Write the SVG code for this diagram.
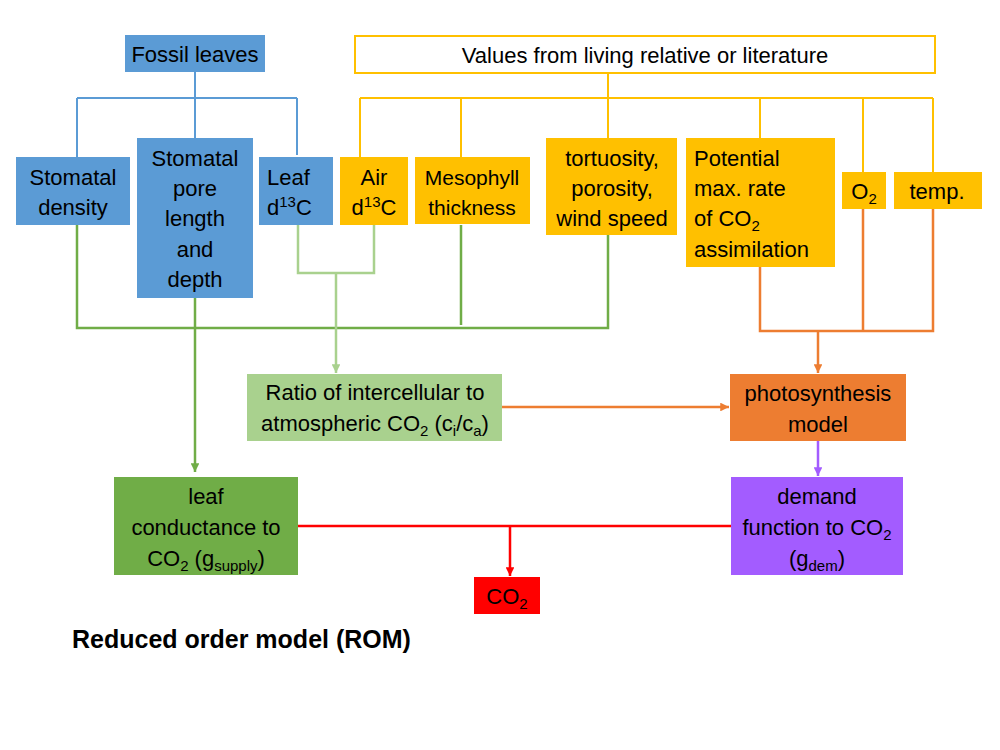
<svg xmlns="http://www.w3.org/2000/svg" width="1000" height="750" viewBox="0 0 1000 750">
<defs>
<style>
text{font-family:"Liberation Sans","Open Sans",sans-serif;font-size:22px;fill:#000}
.c{text-anchor:middle}
.blue{fill:#5b9bd5}
.yel{fill:#ffc000}
.lb{stroke:#5b9bd5;stroke-width:2;fill:none}
.ly{stroke:#ffc000;stroke-width:2;fill:none}
.lg{stroke:#70ad47;stroke-width:2.5;fill:none}
.llg{stroke:#a9d18e;stroke-width:2.5;fill:none}
.lo{stroke:#ed7d31;stroke-width:2.5;fill:none}
.lp{stroke:#a35cff;stroke-width:2.5;fill:none}
.lr{stroke:#ff0000;stroke-width:2.5;fill:none}
.sub{font-size:15px}
</style>
<marker id="ag" viewBox="0 0 10 10" refX="10" refY="5" markerWidth="3.5" markerHeight="3.5" orient="auto"><path d="M0,0L10,5L0,10z" fill="#70ad47"/></marker>
<marker id="alg" viewBox="0 0 10 10" refX="10" refY="5" markerWidth="3.5" markerHeight="3.5" orient="auto"><path d="M0,0L10,5L0,10z" fill="#a9d18e"/></marker>
<marker id="ao" viewBox="0 0 10 10" refX="10" refY="5" markerWidth="3.5" markerHeight="3.5" orient="auto"><path d="M0,0L10,5L0,10z" fill="#ed7d31"/></marker>
<marker id="ap" viewBox="0 0 10 10" refX="10" refY="5" markerWidth="3.5" markerHeight="3.5" orient="auto"><path d="M0,0L10,5L0,10z" fill="#a35cff"/></marker>
<marker id="ar" viewBox="0 0 10 10" refX="10" refY="5" markerWidth="3.5" markerHeight="3.5" orient="auto"><path d="M0,0L10,5L0,10z" fill="#ff0000"/></marker>
</defs>
<rect width="1000" height="750" fill="#fff"/>
<g id="connectors">
<path class="lb" d="M195,72V98M77,98H297M77,98V157M195,98V138M297,98V155"/>
<path class="ly" d="M608,73V98M360,98H933M360,98V157M461,98V157M608,98V138M760,98V138M863,98V172M933,98V172"/>
<path class="lg" d="M77,225V328H608V235M461,225V325"/>
<path class="lg" d="M195,298V472" marker-end="url(#ag)"/>
<path class="llg" d="M298,225V273H374V225"/>
<path class="llg" d="M336,273V373" marker-end="url(#alg)"/>
<path class="lo" d="M760,267V331H933V209M863,209V331"/>
<path class="lo" d="M818,331V373" marker-end="url(#ao)"/>
<path class="lo" d="M502,407H729" marker-end="url(#ao)"/>
<path class="lp" d="M818,441V476" marker-end="url(#ap)"/>
<path class="lr" d="M298,526H731M510,526V576" marker-end="url(#ar)"/>
</g>
<g id="fossil"><rect class="blue" x="125" y="35" width="140" height="37"/><text class="c" x="195" y="62">Fossil leaves</text></g>
<g id="values"><rect x="355" y="36" width="580" height="37" fill="#fff" stroke="#ffc000" stroke-width="2"/><text class="c" x="645" y="63">Values from living relative or literature</text></g>
<g id="stomdens"><rect class="blue" x="16" y="157" width="114" height="68"/><text class="c" x="73" y="185">Stomatal</text><text class="c" x="73" y="215">density</text></g>
<g id="pore"><rect class="blue" x="137" y="138" width="116" height="160"/><text class="c" x="195" y="166">Stomatal</text><text class="c" x="195" y="196">pore</text><text class="c" x="195" y="226">length</text><text class="c" x="195" y="257">and</text><text class="c" x="195" y="287">depth</text></g>
<g id="leafd13c"><rect class="blue" x="259" y="157" width="74" height="68"/><text x="267" y="185">Leaf</text><text x="267" y="215">d<tspan class="sub" dy="-8">13</tspan><tspan dy="8">C</tspan></text></g>
<g id="aird13c"><rect class="yel" x="340" y="157" width="68" height="68"/><text class="c" x="374" y="185">Air</text><text class="c" x="374" y="215">d<tspan class="sub" dy="-8">13</tspan><tspan dy="8">C</tspan></text></g>
<g id="mesophyll"><rect class="yel" x="415" y="157" width="115" height="67"/><text class="c" x="472" y="185" style="font-size:21px">Mesophyll</text><text class="c" x="472" y="215" style="font-size:21px">thickness</text></g>
<g id="tortuosity"><rect class="yel" x="546" y="138" width="131" height="97"/><text class="c" x="612" y="166">tortuosity,</text><text class="c" x="612" y="196">porosity,</text><text class="c" x="612" y="226">wind speed</text></g>
<g id="potential"><rect class="yel" x="686" y="138" width="149" height="129"/><text x="694" y="166">Potential</text><text x="694" y="196">max. rate</text><text x="694" y="226">of CO<tspan class="sub" dy="5">2</tspan></text><text x="694" y="257">assimilation</text></g>
<g id="o2"><rect class="yel" x="842" y="172" width="44" height="37"/><text class="c" x="864" y="199">O<tspan class="sub" dy="5">2</tspan></text></g>
<g id="temp"><rect class="yel" x="894" y="172" width="88" height="37"/><text class="c" x="937" y="199">temp.</text></g>
<g id="ratio"><rect x="247" y="374" width="255" height="67" fill="#a9d18e"/><text class="c" x="375" y="400">Ratio of intercellular to</text><text class="c" x="375" y="431">atmospheric CO<tspan class="sub" dy="5">2</tspan><tspan dy="-5"> (c</tspan><tspan class="sub" dy="5">i</tspan><tspan dy="-5">/c</tspan><tspan class="sub" dy="5">a</tspan><tspan dy="-5">)</tspan></text></g>
<g id="photo"><rect x="730" y="374" width="176" height="67" fill="#ed7d31"/><text class="c" x="818" y="401">photosynthesis</text><text class="c" x="818" y="432">model</text></g>
<g id="leafcond"><rect x="114" y="477" width="184" height="98" fill="#70ad47"/><text class="c" x="206" y="504">leaf</text><text class="c" x="206" y="535">conductance to</text><text class="c" x="206" y="566">CO<tspan class="sub" dy="5">2</tspan><tspan dy="-5"> (g</tspan><tspan class="sub" dy="5">supply</tspan><tspan dy="-5">)</tspan></text></g>
<g id="demand"><rect x="731" y="477" width="172" height="98" fill="#a35cff"/><text class="c" x="817" y="504">demand</text><text class="c" x="817" y="535">function to CO<tspan class="sub" dy="5">2</tspan></text><text class="c" x="817" y="566">(g<tspan class="sub" dy="5">dem</tspan><tspan dy="-5">)</tspan></text></g>
<g id="co2"><rect x="474" y="577" width="66" height="37" fill="#ff0000"/><text class="c" x="507" y="604">CO<tspan class="sub" dy="5">2</tspan></text></g>
<text x="72" y="648" style="font-weight:bold;font-size:25px">Reduced order model (ROM)</text>
</svg>
